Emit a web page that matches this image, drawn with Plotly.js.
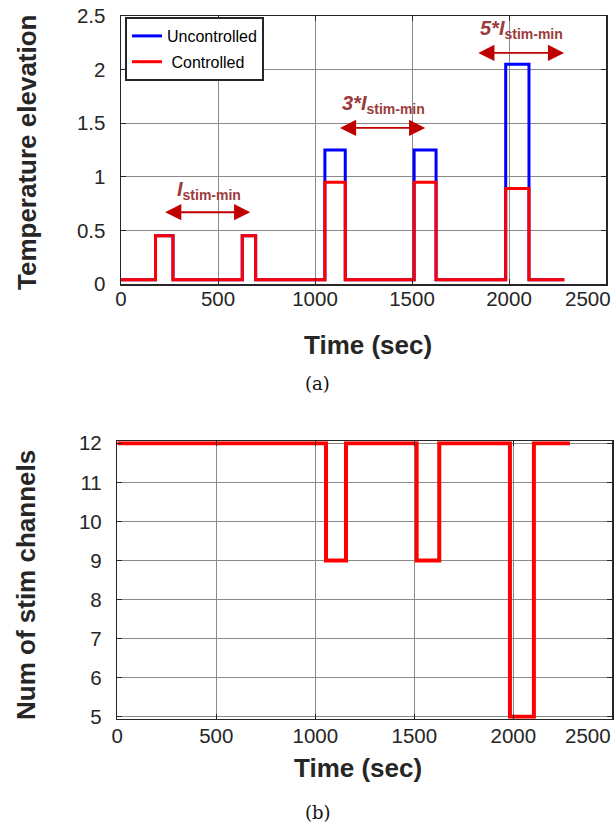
<!DOCTYPE html>
<html>
<head>
<meta charset="utf-8">
<script src="https://cdn.plot.ly/plotly-3.0.1.min.js"></script>
<style>html,body{margin:0;padding:0;background:#fff;}#chart{width:616px;height:827px;}</style>
</head>
<body>
<div id="chart"></div>
<script>
// ---- data ----
var timeTop = [0, 178, 268, 625, 694, 1051, 1156, 1511, 1624, 1983, 2103, 2285];
var uncontrolled = [0.04, 0.45, 0.04, 0.45, 0.04, 1.25, 0.04, 1.25, 0.04, 2.05, 0.04, 0.04];
var controlled = [0.04, 0.45, 0.04, 0.45, 0.04, 0.95, 0.04, 0.95, 0.04, 0.89, 0.04, 0.04];
var timeBottom = [0, 1054, 1155, 1512, 1626, 1983, 2104, 2286];
var stimChannels = [12, 9, 12, 9, 12, 5, 12, 12];
var xTicks = [0, 500, 1000, 1500, 2000, 2500];
var xTickLabels = ['0', '500', '1000', '1500', '2000', ''];   // last label drawn shifted inside the page
var lastXLabel = '2500';
var yTicksTop = [0, 0.5, 1, 1.5, 2, 2.5];
var yTickLabelsTop = ['0', '0.5', '1', '1.5', '2', '2.5'];
var yTicksBottom = [5, 6, 7, 8, 9, 10, 11, 12];
// annotation arrows: [xStart, xEnd, y] and labels [x, y, text]
var arrowSpans = [[220, 666, 0.67], [1121, 1568, 1.456], [1834, 2284, 2.156]];
var arrowLabels = [
  [452, 0.875, '<b><i>I</i><sub>stim-min</sub></b>'],
  [1353, 1.67, '<b><i>3*I</i><sub>stim-min</sub></b>'],
  [2066, 2.37, '<b><i>5*I</i><sub>stim-min</sub></b>']
];

var W = 616, H = 827;
function px(v){ return v / W; }
function py(v){ return 1 - v / H; }

var traces = [
  {x: timeTop, y: uncontrolled, type: 'scatter', mode: 'lines', line: {shape: 'hv', color: '#0000ff', width: 3},
   name: 'Uncontrolled', xaxis: 'x', yaxis: 'y', legendgroup: 'a'},
  {x: timeTop, y: controlled, type: 'scatter', mode: 'lines', line: {shape: 'hv', color: '#ff0000', width: 3},
   name: '&nbsp;Controlled', xaxis: 'x', yaxis: 'y', legendgroup: 'b'},
  {x: timeBottom, y: stimChannels, type: 'scatter', mode: 'lines', line: {shape: 'hv', color: '#ff0000', width: 4},
   name: 'channels', xaxis: 'x2', yaxis: 'y2', showlegend: false}
];

var tickFont = {family: 'Liberation Sans, Arial, sans-serif', size: 20.5, color: '#262626'};
var titleFont = {family: 'Liberation Sans, Arial, sans-serif', size: 26, color: '#262626'};
var gridc = '#8a8a8a';

function mid(o){ o.xanchor = o.xanchor || 'center'; o.yanchor = o.yanchor || 'middle'; o.showarrow = false; return o; }

var annotations = [];
arrowSpans.forEach(function(a){
  annotations.push({xref: 'x', yref: 'y', axref: 'x', ayref: 'y', x: a[1], y: a[2], ax: a[0], ay: a[2],
    text: '', showarrow: true, arrowhead: 2, arrowside: 'end+start', arrowsize: 1.7, arrowwidth: 1.9,
    arrowcolor: '#c00000', standoff: 0, startstandoff: 0});
});
arrowLabels.forEach(function(l){
  annotations.push(mid({xref: 'x', yref: 'y', x: l[0], y: l[1], text: l[2],
    font: {family: 'Liberation Sans, Arial, sans-serif', size: 20, color: '#9b3b3b'}}));
});
// last x tick labels (kept inside the page)
annotations.push(mid({xref: 'paper', yref: 'paper', x: px(613), y: py(298), xanchor: 'right', text: lastXLabel, font: tickFont}));
annotations.push(mid({xref: 'paper', yref: 'paper', x: px(613), y: py(735), xanchor: 'right', text: lastXLabel, font: tickFont}));
// axis titles
annotations.push(mid({xref: 'paper', yref: 'paper', x: px(368), y: py(345), text: '<b>Time (sec)</b>', font: titleFont}));
annotations.push(mid({xref: 'paper', yref: 'paper', x: px(358), y: py(768), text: '<b>Time (sec)</b>', font: titleFont}));
annotations.push(mid({xref: 'paper', yref: 'paper', x: px(27), y: py(152), text: '<b>Temperature elevation</b>', textangle: -90, font: titleFont}));
annotations.push(mid({xref: 'paper', yref: 'paper', x: px(26), y: py(585), text: '<b>Num of stim channels</b>', textangle: -90, font: titleFont}));
// captions
annotations.push(mid({xref: 'paper', yref: 'paper', x: px(317), y: py(383), text: '(a)',
  font: {family: 'DejaVu Serif, serif', size: 18, color: '#111'}}));
annotations.push(mid({xref: 'paper', yref: 'paper', x: px(318), y: py(812), text: '(b)',
  font: {family: 'DejaVu Serif, serif', size: 18, color: '#111'}}));

function axisStyle(extra){
  var o = {ticks: 'inside', ticklen: 5, tickcolor: '#262626', tickwidth: 1,
    showline: true, mirror: 'ticks', linecolor: '#262626', linewidth: 1.5, showgrid: true, gridcolor: gridc,
    zeroline: false, tickfont: tickFont, ticklabeloverflow: 'allow'};
  for (var k in extra) o[k] = extra[k];
  return o;
}

var layout = {
  width: W, height: H,
  margin: {l: 0, r: 0, t: 0, b: 0},
  paper_bgcolor: '#fff', plot_bgcolor: '#fff',
  showlegend: true,
  legend: {x: px(125), y: py(17), xanchor: 'left', yanchor: 'top', bgcolor: '#fff',
    bordercolor: '#262626', borderwidth: 2, traceorder: 'grouped', tracegroupgap: 2,
    font: {family: 'Liberation Sans, Arial, sans-serif', size: 16, color: '#000'}},
  xaxis: axisStyle({domain: [px(121), px(606)], anchor: 'y', range: [0, 2500], tickvals: xTicks, ticktext: xTickLabels, ticklabelstandoff: -4}),
  yaxis: axisStyle({domain: [py(284), py(16)], anchor: 'x', range: [0, 2.5], tickvals: yTicksTop, ticktext: yTickLabelsTop, ticklabelstandoff: 10}),
  xaxis2: axisStyle({domain: [px(117.3), px(612.3)], anchor: 'y2', range: [0, 2500], tickvals: xTicks, ticktext: xTickLabels, ticklabelstandoff: -2}),
  yaxis2: axisStyle({domain: [py(718.7), py(441.3)], anchor: 'x2', range: [4.95, 12.05], tickvals: yTicksBottom, ticklabelstandoff: 10}),
  annotations: annotations
};

Plotly.newPlot('chart', traces, layout, {displayModeBar: false, staticPlot: true});
</script>
</body>
</html>
